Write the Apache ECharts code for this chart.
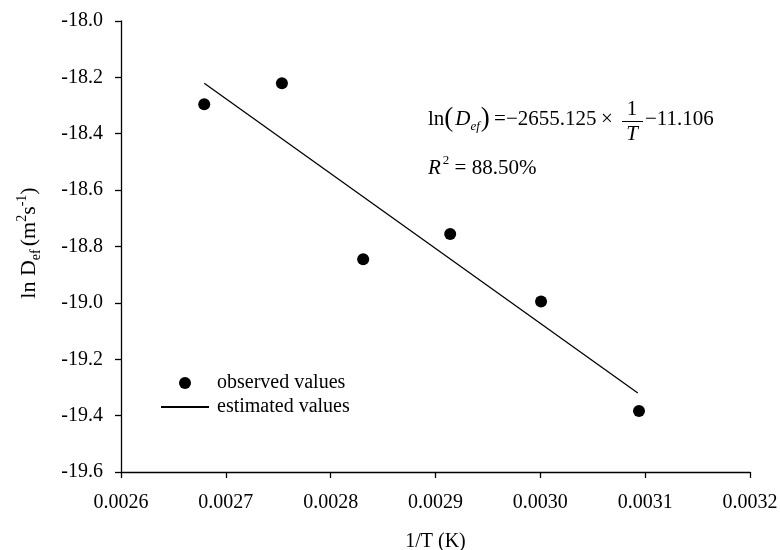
<!DOCTYPE html>
<html>
<head>
<meta charset="utf-8">
<title>ln Def vs 1/T</title>
<script src="https://cdn.jsdelivr.net/npm/echarts@6/dist/echarts.min.js"></script>
<style>
  html, body { margin: 0; padding: 0; background: #fff; }
  #chart { width: 780px; height: 550px; }
</style>
</head>
<body>
<div id="chart"></div>
<script>
// observed points
const invTemp = [0.0026794, 0.0027535, 0.0028310, 0.0029140, 0.0030007, 0.0030941];
const lnDef = [-18.295, -18.221, -18.845, -18.756, -18.995, -19.384];

// fitted line end points (ln Def = -2655.125 * 1/T - 11.106)
const fitX = [0.0026794, 0.0030930];
const fitY = [-18.221, -19.320];

const seriesNames = ['observed values', 'estimated values'];
const slopeText = '\u22122655.125';
const interceptText = '\u221211.106';
const r2Text = '88.50%';

const font = '"Liberation Serif", "Times New Roman", serif';

const chart = echarts.init(document.getElementById('chart'));

const axisCommon = {
  axisLine: { lineStyle: { color: '#000', width: 1.3 } },
  axisTick: { inside: false, length: 6, lineStyle: { color: '#000', width: 1.3 } },
  splitLine: { show: false },
  axisLabel: { color: '#000', fontFamily: font, fontSize: 20 }
};

chart.setOption({
  animation: false,
  backgroundColor: '#fff',
  grid: { left: 121, right: 30, top: 21, bottom: 78, containLabel: false, outerBoundsMode: 'none' },
  xAxis: {
    type: 'value',
    min: 0.0026,
    max: 0.0032,
    interval: 0.0001,
    ...axisCommon,
    axisLabel: { ...axisCommon.axisLabel, margin: 21, formatter: v => v.toFixed(4) },
    name: '1/T (K)',
    nameLocation: 'middle',
    nameGap: 60,
    nameTextStyle: { color: '#000', fontFamily: font, fontSize: 20 }
  },
  yAxis: {
    type: 'value',
    min: -19.6,
    max: -18.0,
    interval: 0.2,
    ...axisCommon,
    axisLabel: { ...axisCommon.axisLabel, margin: 18, formatter: v => v.toFixed(1) }
  },
  legend: {
    orient: 'vertical',
    left: 155,
    top: 368,
    itemWidth: 48,
    itemHeight: 12,
    itemGap: 4,
    data: [
      { name: seriesNames[0], icon: 'circle' },
      { name: seriesNames[1], itemStyle: { opacity: 0 } }
    ],
    textStyle: { color: '#000', fontFamily: font, fontSize: 20, padding: [0, 0, 0, 3] }
  },
  series: [
    {
      name: seriesNames[0],
      type: 'scatter',
      symbol: 'circle',
      symbolSize: 12,
      itemStyle: { color: '#000', opacity: 1 },
      data: invTemp.map((x, i) => [x, lnDef[i]])
    },
    {
      name: seriesNames[1],
      type: 'line',
      symbol: 'none',
      lineStyle: { color: '#000', width: 1.3 },
      itemStyle: { color: '#000' },
      data: fitX.map((x, i) => [x, fitY[i]])
    }
  ],
  graphic: [
    {
      type: 'text',
      x: 29,
      y: 243,
      rotation: Math.PI / 2,
      style: {
        text: '{b|ln D}{s|ef}{b|(m}{p|2}{b|s}{p|-1}{b|)}',
        align: 'center',
        verticalAlign: 'middle',
        fill: '#000',
        rich: {
          b: { fontFamily: font, fontSize: 22, lineHeight: 28, verticalAlign: 'middle' },
          s: { fontFamily: font, fontSize: 14, lineHeight: 14, verticalAlign: 'bottom', padding: [0, 3, 0, 0] },
          p: { fontFamily: font, fontSize: 14, lineHeight: 14, verticalAlign: 'top' }
        }
      }
    },
    {
      type: 'text',
      x: 428,
      y: 119,
      style: {
        text: '{b|ln}{q|(}{i|D}{s|ef}{q|)}',
        align: 'left',
        verticalAlign: 'middle',
        fill: '#000',
        rich: {
          b: { fontFamily: font, fontSize: 21, lineHeight: 28, verticalAlign: 'middle' },
          q: { fontFamily: font, fontSize: 27, lineHeight: 28, verticalAlign: 'middle' },
          i: { fontFamily: font, fontSize: 21, fontStyle: 'italic', lineHeight: 28, verticalAlign: 'middle', padding: [0, 0, 0, 2] },
          s: { fontFamily: font, fontSize: 13, fontStyle: 'italic', lineHeight: 13, verticalAlign: 'bottom', padding: [0, 1, 0, 0] }
        }
      }
    },
    {
      type: 'text', x: 494, y: 119,
      style: { text: '=', font: '21px ' + font, fill: '#000', align: 'left', verticalAlign: 'middle' }
    },
    {
      type: 'text', x: 506, y: 119,
      style: { text: slopeText, font: '21px ' + font, fill: '#000', align: 'left', verticalAlign: 'middle' }
    },
    {
      type: 'text', x: 607, y: 119,
      style: { text: '\u00d7', font: '21px ' + font, fill: '#000', align: 'center', verticalAlign: 'middle' }
    },
    {
      type: 'text', x: 632, y: 109,
      style: { text: '1', font: '21px ' + font, fill: '#000', align: 'center', verticalAlign: 'middle' }
    },
    {
      type: 'line',
      shape: { x1: 622, y1: 121.5, x2: 643, y2: 121.5 },
      style: { stroke: '#000', lineWidth: 1 }
    },
    {
      type: 'text', x: 632, y: 134,
      style: { text: 'T', font: 'italic 21px ' + font, fill: '#000', align: 'center', verticalAlign: 'middle' }
    },
    {
      type: 'text', x: 645, y: 119,
      style: { text: interceptText, font: '21px ' + font, fill: '#000', align: 'left', verticalAlign: 'middle' }
    },
    {
      type: 'text',
      x: 428,
      y: 168,
      style: {
        text: '{i|R}{p|2}{b| = ' + r2Text + '}',
        align: 'left',
        verticalAlign: 'middle',
        fill: '#000',
        rich: {
          b: { fontFamily: font, fontSize: 21, lineHeight: 28, verticalAlign: 'middle' },
          i: { fontFamily: font, fontSize: 21, fontStyle: 'italic', lineHeight: 28, verticalAlign: 'middle' },
          p: { fontFamily: font, fontSize: 13, lineHeight: 13, verticalAlign: 'top', padding: [0, 0, 0, 2] }
        }
      }
    }
  ]
});
</script>
</body>
</html>
